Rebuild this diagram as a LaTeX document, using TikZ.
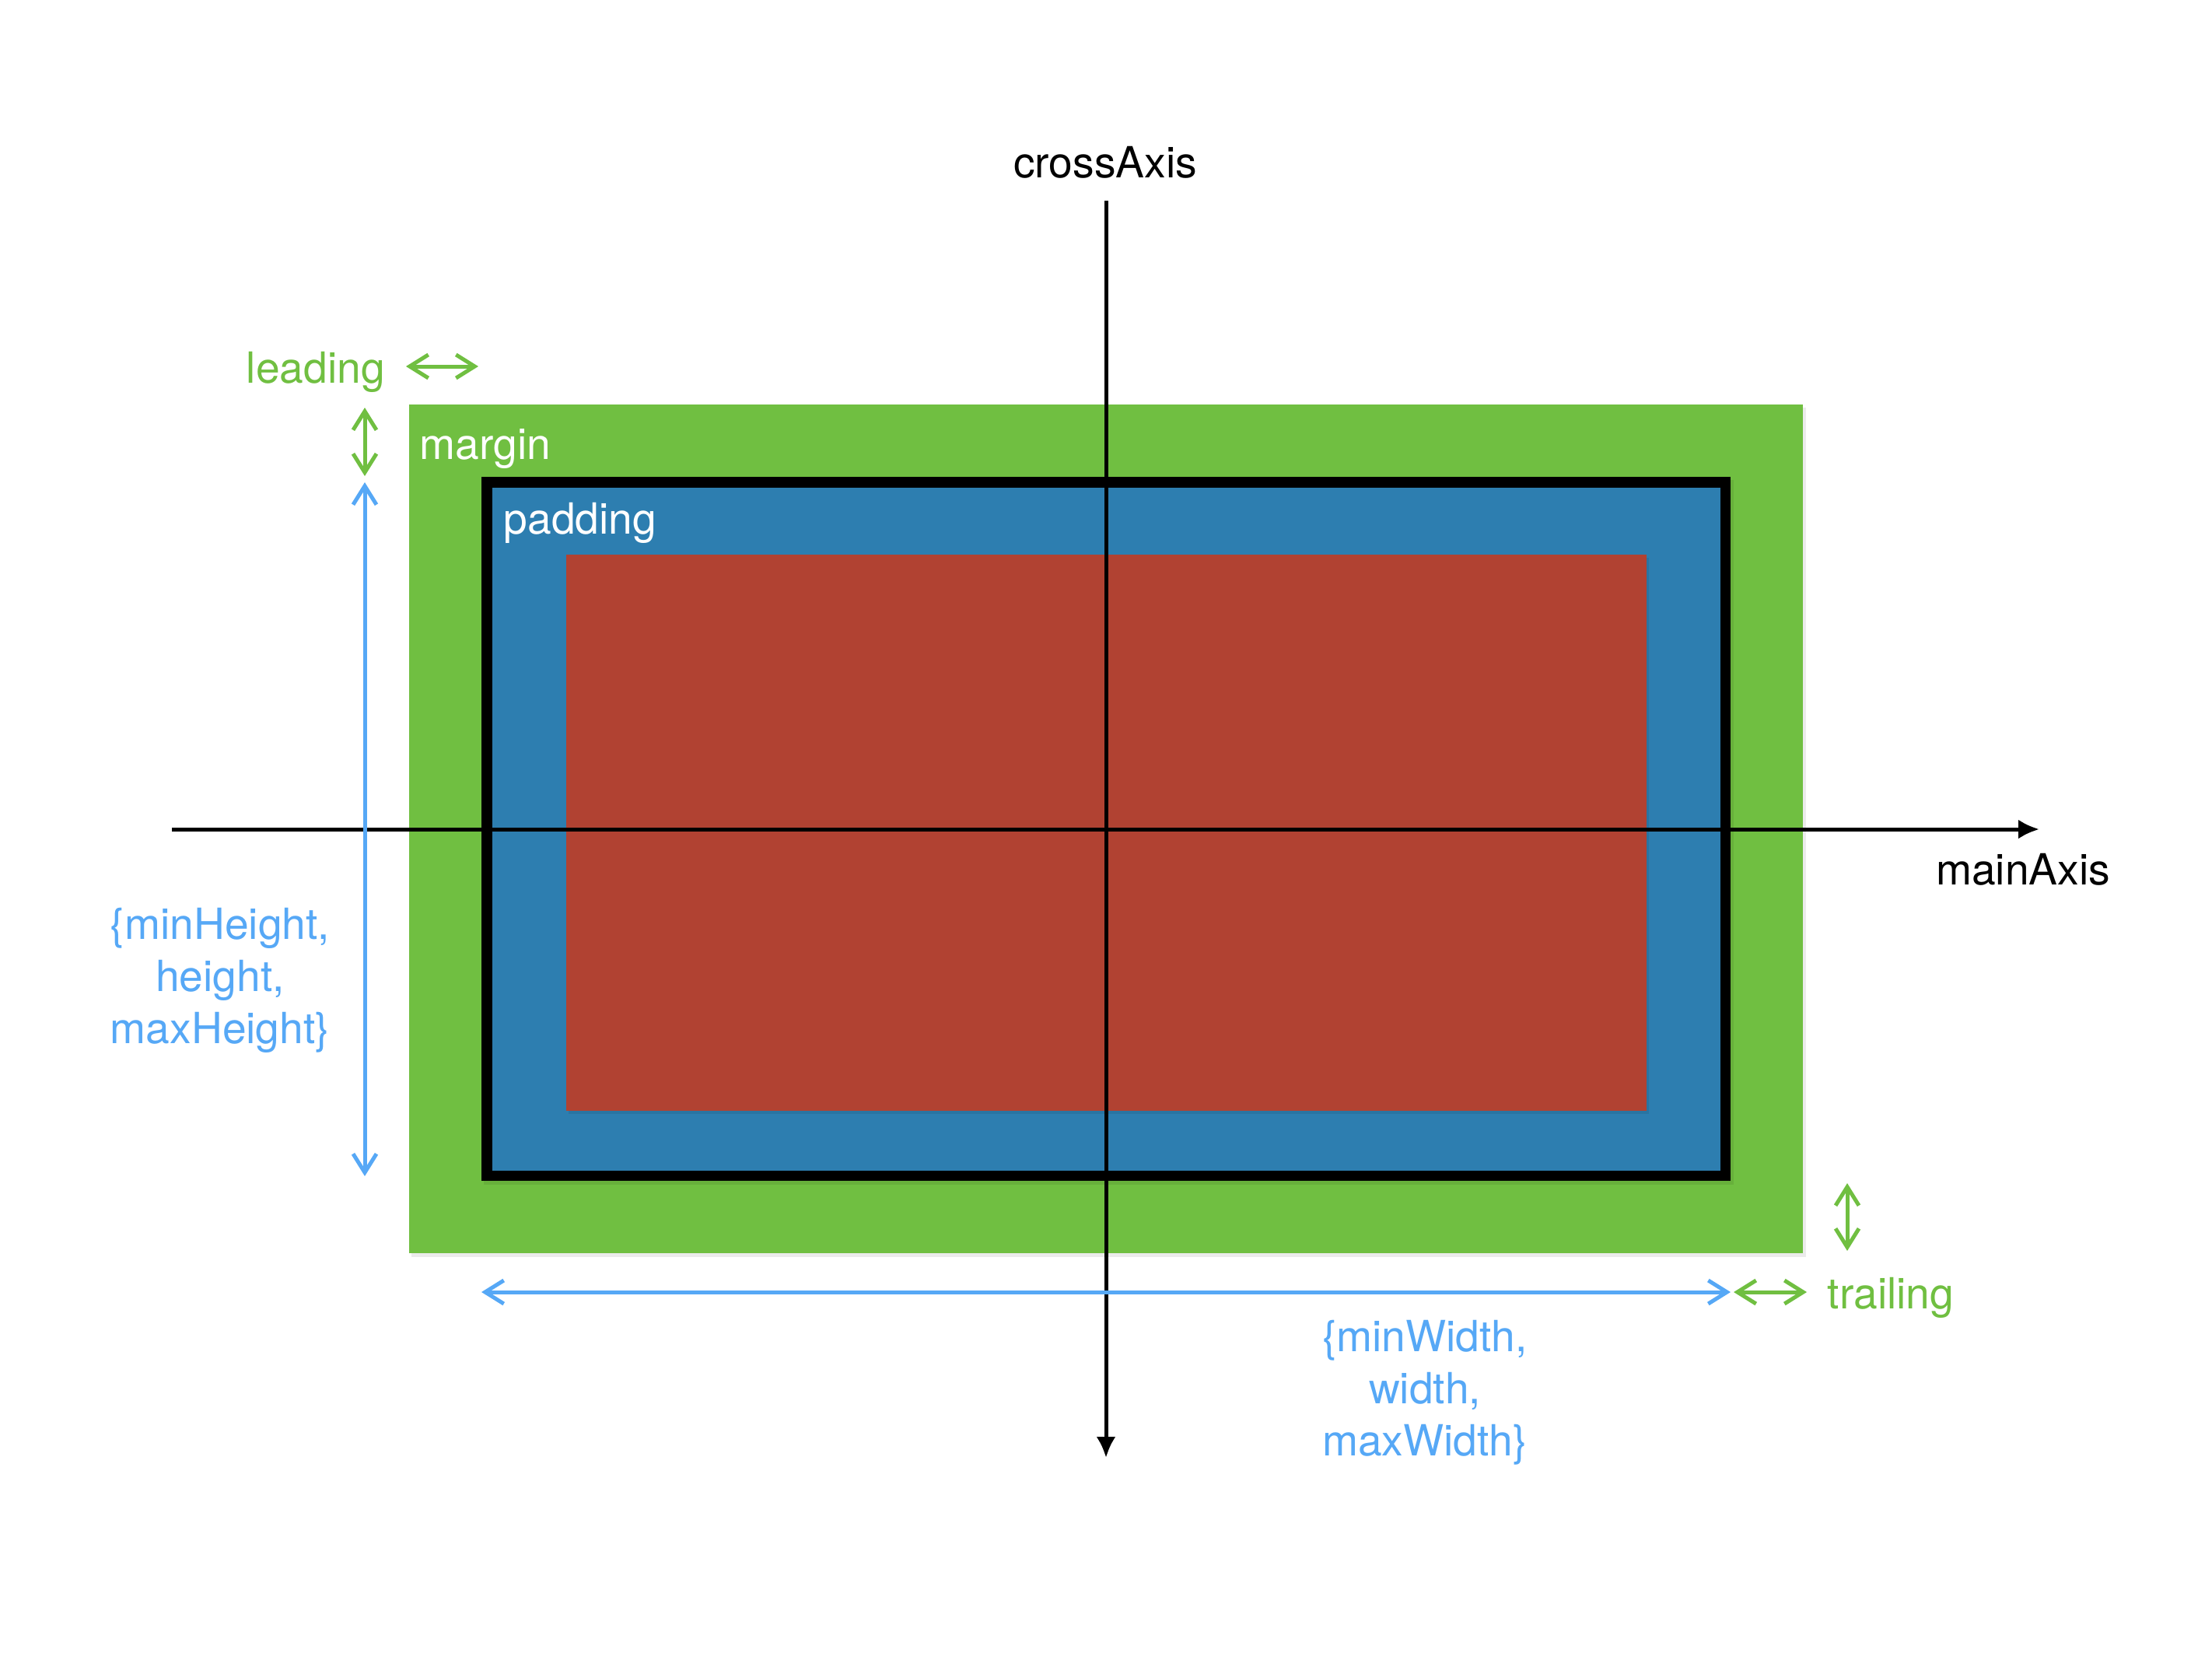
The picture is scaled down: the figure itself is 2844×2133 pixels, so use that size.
\documentclass[tikz,border=0pt]{standalone}
\usepackage{fontspec}
\setmainfont{TeX Gyre Heros}
\usetikzlibrary{arrows.meta}
\definecolor{mgreen}{RGB}{112,191,65}
\definecolor{pblue}{RGB}{45,126,176}
\definecolor{cred}{RGB}{177,66,50}
\definecolor{lblue}{RGB}{86,168,246}
\begin{document}
\begin{tikzpicture}[x=0.25pt,y=-0.25pt,
  lbl/.style={font=\fontsize{13.8}{16.75}\selectfont, inner sep=0pt},
  axisarrow/.style={line width=1.25pt, -{Latex[length=6.75pt,width=6.25pt]}},
  dimarrow/.style={line width=1.25pt, line cap=round, line join=round,
    {Straight Barb[length=6pt,width=7.5pt]}-{Straight Barb[length=6pt,width=7.5pt]}},
  shade/.style={fill=black, opacity=0.08}]
\useasboundingbox[fill=white] (0,0) rectangle (2844,2133);
% margin box
\fill[shade] (529,524) rectangle (2322,1616);
\fill[mgreen] (526,520) rectangle (2318,1611);
% frame with padding
\fill[shade] (622,617) rectangle (2229,1523);
\fill[black] (619,613) rectangle (2225,1518);
\fill[pblue] (633,627) rectangle (2212,1505);
% content
\fill[shade] (731,717) rectangle (2120,1432);
\fill[cred] (728,713) rectangle (2117,1428);
% coordinates
\coordinate (hs) at (221,1066);
\coordinate (he) at (2622,1066);
\coordinate (vs) at (1422,258);
\coordinate (ve) at (1422,1874);
\coordinate (lh1) at (522,471);
\coordinate (lh2) at (615,471);
\coordinate (lv1) at (469,524);
\coordinate (lv2) at (469,612);
\coordinate (bv1) at (469,620);
\coordinate (bv2) at (469,1512);
\coordinate (bh1) at (619,1661);
\coordinate (bh2) at (2225,1661);
\coordinate (th1) at (2229,1661);
\coordinate (th2) at (2323,1661);
\coordinate (tv1) at (2375,1521);
\coordinate (tv2) at (2375,1608);
% axes
\draw[axisarrow] (hs) -- (he);
\draw[axisarrow] (vs) -- (ve);
% dimension arrows
\draw[dimarrow, mgreen] (lh1) -- (lh2);
\draw[dimarrow, mgreen] (lv1) -- (lv2);
\draw[dimarrow, lblue] (bv1) -- (bv2);
\draw[dimarrow, lblue] (bh1) -- (bh2);
\draw[dimarrow, mgreen] (th1) -- (th2);
\draw[dimarrow, mgreen] (tv1) -- (tv2);
% labels
\node[lbl, anchor=base] (cross) at (1421,228) {crossAxis};
\node[lbl, anchor=base] (main) at (2601,1137) {mainAxis};
\node[lbl, text=mgreen, anchor=base west] (lead) at (316,492) {leading};
\node[lbl, text=white, anchor=base west] (marg) at (539,590) {margin};
\node[lbl, text=white, anchor=base west] (padd) at (647,686) {padding};
\node[lbl, text=mgreen, anchor=base west] (trail) at (2349,1682) {trailing};
\node[lbl, text=lblue, align=center] (mh) at (283,1260) {\{minHeight,\\height,\\maxHeight\}};
\node[lbl, text=lblue, align=center] (mw) at (1832,1790) {\{minWidth,\\width,\\maxWidth\}};
\end{tikzpicture}
\end{document}
